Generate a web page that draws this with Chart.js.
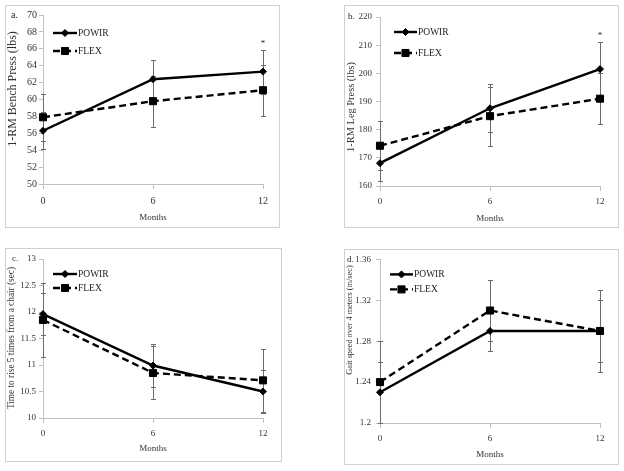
<!DOCTYPE html>
<html><head><meta charset="utf-8">
<script src="https://cdn.jsdelivr.net/npm/chart.js@4/dist/chart.umd.min.js"></script>
<style>
html,body{margin:0;padding:0;background:#fff;}
body{width:624px;height:471px;position:relative;overflow:hidden;}
.box{position:absolute;box-sizing:border-box;border:1px solid #d0d0d0;pointer-events:none;}
canvas{position:absolute;}
</style></head><body>
<script>
// ---- data ----
const months = [0, 6, 12];
const seriesNames = ['POWIR', 'FLEX'];

// a. 1-RM Bench Press (lbs)
const benchPowir = [56.3, 62.4, 63.3];
const benchPowirErr = [2.2, 2.3, 2.6];
const benchFlex = [57.9, 59.8, 61.1];
const benchFlexErr = [2.8, 3.0, 3.0];
const benchTicks = [50, 52, 54, 56, 58, 60, 62, 64, 66, 68, 70];
const benchSig = [false, false, true];

// b. 1-RM Leg Press (lbs)
const legPowir = [168.1, 187.6, 201.5];
const legPowirErr = [6.5, 8.5, 9.6];
const legFlex = [174.3, 184.8, 191.0];
const legFlexErr = [8.6, 10.5, 9.0];
const legTicks = [160, 170, 180, 190, 200, 210, 220];
const legSig = [false, false, true];

// c. Time to rise 5 times from a chair (sec)
const chairPowir = [11.96, 10.99, 10.50];
const chairPowirErr = [0.4, 0.4, 0.4];
const chairFlex = [11.85, 10.85, 10.71];
const chairFlexErr = [0.7, 0.5, 0.6];
const chairTicks = [10, 10.5, 11, 11.5, 12, 12.5, 13];
const chairSig = [false, false, false];

// d. Gait speed over 4 meters (m/sec)
const gaitPowir = [1.23, 1.29, 1.29];
const gaitPowirErr = [0.03, 0.02, 0.03];
const gaitFlex = [1.24, 1.31, 1.29];
const gaitFlexErr = [0.04, 0.03, 0.04];
const gaitTicks = [1.2, 1.24, 1.28, 1.32, 1.36];
const gaitSig = [false, false, false];

const xTitle = 'Months';

// ---- layout ----
const FONT = "'Liberation Serif','DejaVu Serif',serif";
Chart.defaults.font.family = FONT;
Chart.defaults.color = '#333';

const panels = [
  {tag:'a.', yTitle:'1-RM Bench Press (lbs)', powir:benchPowir, powirErr:benchPowirErr, flex:benchFlex, flexErr:benchFlexErr, yTicks:benchTicks, sig:benchSig,
   box:[5,5,275,223], padTop:10, padRight:17, yW:38, xH:44, tickFont:10, yTickPad:2, xTickPad:6, xTitlePad:5,
   yT:{x:8,y:84,size:12}, legX:[10,34], legRows:[18,36], tagDx:-32},
  {tag:'b.', yTitle:'1-RM Leg Press (lbs)', powir:legPowir, powirErr:legPowirErr, flex:legFlex, flexErr:legFlexErr, yTicks:legTicks, sig:legSig,
   box:[344,5,275,223], padTop:12, padRight:19, yW:36, xH:42, tickFont:9, yTickPad:4, xTickPad:5, xTitlePad:4,
   yT:{x:7,y:102,size:10.4}, legX:[14,37], legRows:[15,36], tagDx:-32},
  {tag:'c.', yTitle:'Time to rise 5 times from a chair (sec)', powir:chairPowir, powirErr:chairPowirErr, flex:chairFlex, flexErr:chairFlexErr, yTicks:chairTicks, sig:chairSig,
   box:[5,248,277,214], padTop:11, padRight:19, yW:38, xH:44, tickFont:9, yTickPad:3, xTickPad:5, xTitlePad:8,
   yT:{x:7,y:90,size:9.3}, legX:[10,34], legRows:[15,29], tagDx:-31},
  {tag:'d.', yTitle:'Gait speed over 4 meters (m/sec)', powir:gaitPowir, powirErr:gaitPowirErr, flex:gaitFlex, flexErr:gaitFlexErr, yTicks:gaitTicks, sig:gaitSig,
   box:[344,249,275,216], padTop:10, padRight:19, yW:36, xH:42, tickFont:9, yTickPad:5, xTickPad:5, xTitlePad:5,
   yT:{x:6,y:71,size:8.3}, legX:[10,33], legRows:[15,30], tagDx:-33}
];

const deco = {
  id: 'panelDeco',
  beforeDatasetsDraw(chart) {
    const ctx = chart.ctx, xs = chart.scales.x, ys = chart.scales.y;
    chart.data.datasets.forEach(ds => {
      ctx.save();
      ctx.strokeStyle = '#6a6a6a';
      ctx.lineWidth = 1;
      ds.data.forEach((p, i) => {
        const e = ds.errors[i];
        const px = Math.round(xs.getPixelForValue(p.x)) + 0.5;
        const yt = Math.round(ys.getPixelForValue(p.y + e)) + 0.5;
        const yb = Math.round(ys.getPixelForValue(Math.max(p.y - e, ys.min))) + 0.5;
        ctx.beginPath();
        ctx.moveTo(px, yt); ctx.lineTo(px, yb);
        ctx.moveTo(px - 2.5, yt); ctx.lineTo(px + 2.5, yt);
        ctx.moveTo(px - 2.5, yb); ctx.lineTo(px + 2.5, yb);
        ctx.stroke();
      });
      ctx.restore();
    });
  },
  afterDraw(chart) {
    const o = chart.options.plugins.panelDeco;
    const ctx = chart.ctx, ca = chart.chartArea, xs = chart.scales.x, ys = chart.scales.y;
    // legend
    chart.data.datasets.forEach((ds, i) => {
      const y = ca.top + o.legRows[i];
      const x0 = ca.left + o.legX[0], x1 = ca.left + o.legX[1];
      ctx.save();
      ctx.strokeStyle = ds.borderColor; ctx.lineWidth = ds.borderWidth;
      ctx.setLineDash(ds.borderDash || []);
      ctx.beginPath(); ctx.moveTo(x0, y); ctx.lineTo(x1, y); ctx.stroke();
      ctx.setLineDash([]);
      ctx.fillStyle = ds.pointBackgroundColor; ctx.strokeStyle = ds.pointBorderColor; ctx.lineWidth = 1;
      Chart.helpers.drawPoint(ctx, {pointStyle: ds.pointStyle, radius: ds.pointRadius, rotation: 0, borderWidth: 1}, (x0 + x1) / 2, y);
      ctx.fillStyle = '#222';
      ctx.font = '9.5px ' + FONT;
      ctx.textBaseline = 'middle'; ctx.textAlign = 'left';
      ctx.fillText(ds.label, x1 + 1, y + 0.5);
      ctx.restore();
    });
    ctx.save();
    // panel tag
    ctx.fillStyle = '#222';
    ctx.font = o.tickFont + 'px ' + FONT;
    ctx.textBaseline = 'middle'; ctx.textAlign = 'left';
    ctx.fillText(o.tag, ca.left + o.tagDx, ys.getPixelForValue(ys.max));
    // significance
    ctx.font = '9px ' + FONT; ctx.textAlign = 'center';
    const ds0 = chart.data.datasets[0];
    o.sig.forEach((s, i) => {
      if (!s) return;
      ctx.fillText('*', xs.getPixelForValue(months[i]), ys.getPixelForValue(ds0.data[i].y + ds0.errors[i]) - 6);
    });
    // y title
    ctx.translate(o.yT.x, o.yT.y);
    ctx.rotate(-Math.PI / 2);
    ctx.font = o.yT.size + 'px ' + FONT;
    ctx.fillStyle = '#333';
    ctx.textAlign = 'center'; ctx.textBaseline = 'middle';
    ctx.fillText(o.yTitle, 0, 0);
    ctx.restore();
  }
};

function makePanel(p) {
  const [bx, by, bw, bh] = p.box;
  const cv = document.createElement('canvas');
  cv.width = bw; cv.height = bh;
  cv.style.left = bx + 'px'; cv.style.top = by + 'px';
  cv.style.width = bw + 'px'; cv.style.height = bh + 'px';
  document.body.appendChild(cv);
  const bd = document.createElement('div');
  bd.className = 'box';
  bd.style.left = bx + 'px'; bd.style.top = by + 'px';
  bd.style.width = bw + 'px'; bd.style.height = bh + 'px';
  document.body.appendChild(bd);
  const mk = vals => months.map((m, i) => ({x: m, y: vals[i]}));
  const axisCol = '#bfbfbf';
  new Chart(cv, {
    type: 'line',
    data: {datasets: [
      {label: seriesNames[0], data: mk(p.powir), errors: p.powirErr, borderColor: '#000', backgroundColor: '#000',
       pointBackgroundColor: '#000', pointBorderColor: '#000', borderWidth: 2.4, pointStyle: 'rectRot', pointRadius: 3.5,
       pointBorderWidth: 1, tension: 0, clip: false, fill: false},
      {label: seriesNames[1], data: mk(p.flex), errors: p.flexErr, borderColor: '#000', backgroundColor: '#000',
       pointBackgroundColor: '#000', pointBorderColor: '#000', borderWidth: 2.4, borderDash: [7, 4], pointStyle: 'rect', pointRadius: 5,
       pointBorderWidth: 1, tension: 0, clip: false, fill: false}
    ]},
    options: {
      responsive: false, animation: false, devicePixelRatio: 1,
      layout: {padding: {left: 0, top: p.padTop, right: p.padRight, bottom: 0}},
      plugins: {
        legend: {display: false}, tooltip: {enabled: false},
        panelDeco: {tag: p.tag, yTitle: p.yTitle, yT: p.yT, legX: p.legX, legRows: p.legRows, tagDx: p.tagDx, tickFont: p.tickFont, sig: p.sig}
      },
      scales: {
        x: {
          type: 'linear', min: 0, max: 12,
          afterBuildTicks: s => { s.ticks = months.map(v => ({value: v})); },
          afterFit: s => { s.height = p.xH; },
          grid: {display: true, drawOnChartArea: false, drawTicks: true, tickLength: 5, color: axisCol},
          border: {display: true, color: axisCol, width: 1},
          ticks: {font: {size: p.tickFont}, padding: p.xTickPad, maxRotation: 0, autoSkip: false, color: '#333'},
          title: {display: true, text: xTitle, font: {size: 9}, color: '#333', padding: {top: 0, bottom: p.xTitlePad}}
        },
        y: {
          type: 'linear', min: p.yTicks[0], max: p.yTicks[p.yTicks.length - 1],
          afterBuildTicks: s => { s.ticks = p.yTicks.map(v => ({value: v})); },
          afterFit: s => { s.width = p.yW; },
          grid: {display: true, drawOnChartArea: false, drawTicks: true, tickLength: 4, color: axisCol},
          border: {display: true, color: axisCol, width: 1},
          ticks: {font: {size: p.tickFont}, padding: p.yTickPad, color: '#333', autoSkip: false, callback: v => String(v)}
        }
      }
    },
    plugins: [deco]
  });
}
panels.forEach(makePanel);
</script>
</body></html>
